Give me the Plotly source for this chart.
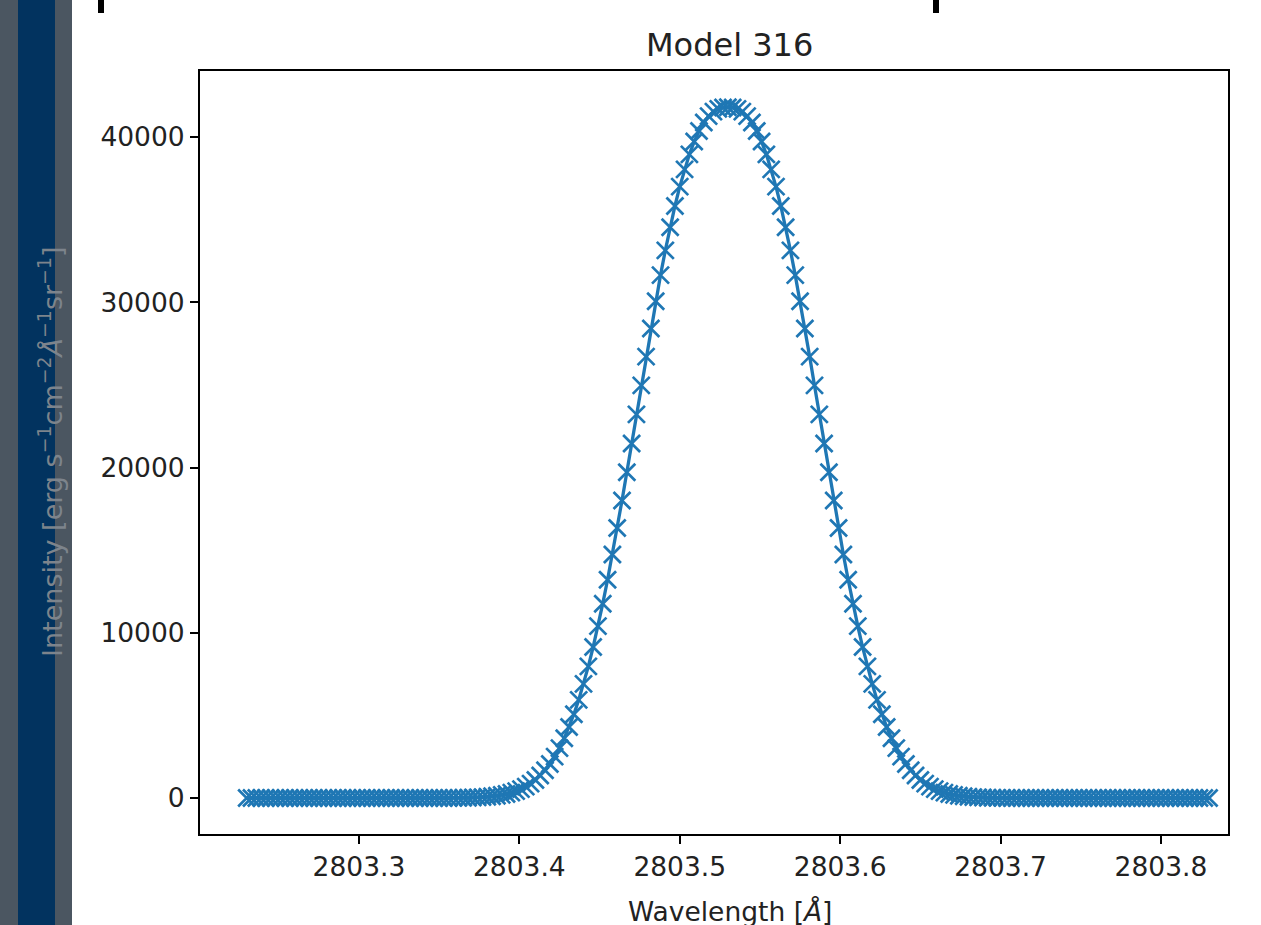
import plotly.graph_objects as go

# ---------------- data ----------------
wavelength = [
    2803.230, 2803.233, 2803.236, 2803.239, 2803.242, 2803.245, 2803.248, 2803.251, 2803.254, 2803.257,
    2803.260, 2803.263, 2803.266, 2803.269, 2803.272, 2803.275, 2803.278, 2803.281, 2803.284, 2803.287,
    2803.290, 2803.293, 2803.296, 2803.299, 2803.302, 2803.305, 2803.308, 2803.311, 2803.314, 2803.317,
    2803.320, 2803.323, 2803.326, 2803.329, 2803.332, 2803.335, 2803.338, 2803.341, 2803.344, 2803.347,
    2803.350, 2803.353, 2803.356, 2803.359, 2803.362, 2803.365, 2803.368, 2803.371, 2803.374, 2803.377,
    2803.380, 2803.383, 2803.386, 2803.389, 2803.392, 2803.395, 2803.398, 2803.401, 2803.404, 2803.407,
    2803.410, 2803.413, 2803.416, 2803.419, 2803.422, 2803.425, 2803.428, 2803.431, 2803.434, 2803.437,
    2803.440, 2803.443, 2803.446, 2803.449, 2803.452, 2803.455, 2803.458, 2803.461, 2803.464, 2803.467,
    2803.470, 2803.473, 2803.476, 2803.479, 2803.482, 2803.485, 2803.488, 2803.491, 2803.494, 2803.497,
    2803.500, 2803.503, 2803.506, 2803.509, 2803.512, 2803.515, 2803.518, 2803.521, 2803.524, 2803.527,
    2803.530, 2803.533, 2803.536, 2803.539, 2803.542, 2803.545, 2803.548, 2803.551, 2803.554, 2803.557,
    2803.560, 2803.563, 2803.566, 2803.569, 2803.572, 2803.575, 2803.578, 2803.581, 2803.584, 2803.587,
    2803.590, 2803.593, 2803.596, 2803.599, 2803.602, 2803.605, 2803.608, 2803.611, 2803.614, 2803.617,
    2803.620, 2803.623, 2803.626, 2803.629, 2803.632, 2803.635, 2803.638, 2803.641, 2803.644, 2803.647,
    2803.650, 2803.653, 2803.656, 2803.659, 2803.662, 2803.665, 2803.668, 2803.671, 2803.674, 2803.677,
    2803.680, 2803.683, 2803.686, 2803.689, 2803.692, 2803.695, 2803.698, 2803.701, 2803.704, 2803.707,
    2803.710, 2803.713, 2803.716, 2803.719, 2803.722, 2803.725, 2803.728, 2803.731, 2803.734, 2803.737,
    2803.740, 2803.743, 2803.746, 2803.749, 2803.752, 2803.755, 2803.758, 2803.761, 2803.764, 2803.767,
    2803.770, 2803.773, 2803.776, 2803.779, 2803.782, 2803.785, 2803.788, 2803.791, 2803.794, 2803.797,
    2803.800, 2803.803, 2803.806, 2803.809, 2803.812, 2803.815, 2803.818, 2803.821, 2803.824, 2803.827,
    2803.830,
]

intensity = [
    0, 0, 0, 0, 0, 0, 0, 0, 0, 0,
    0, 0, 0, 0, 0, 0, 0, 0, 0, 0,
    0, 0, 0, 0, 0, 0, 0, 0, 0, 0,
    0, 0, 0, 0, 0, 0, 0, 0, 1, 1,
    2, 3, 5, 7, 10, 14, 20, 29, 41, 56,
    77, 105, 141, 188, 247, 324, 419, 539, 688, 870,
    1093, 1360, 1680, 2059, 2504, 3021, 3616, 4299, 5071, 5937,
    6904, 7966, 9134, 10399, 11758, 13205, 14736, 16339, 18003, 19713,
    21455, 23213, 24967, 26709, 28411, 30059, 31639, 33138, 34537, 35826,
    36996, 38038, 38947, 39724, 40365, 40876, 41263, 41534, 41701, 41782,
    41800, 41782, 41701, 41534, 41263, 40876, 40365, 39724, 38947, 38038,
    36996, 35826, 34537, 33138, 31639, 30059, 28411, 26709, 24967, 23213,
    21455, 19713, 18003, 16339, 14736, 13205, 11758, 10399, 9134, 7966,
    6904, 5937, 5071, 4299, 3616, 3021, 2504, 2059, 1680, 1360,
    1093, 870, 688, 539, 419, 324, 247, 188, 141, 105,
    77, 56, 41, 29, 20, 14, 10, 7, 5, 3,
    2, 1, 1, 0, 0, 0, 0, 0, 0, 0,
    0, 0, 0, 0, 0, 0, 0, 0, 0, 0,
    0, 0, 0, 0, 0, 0, 0, 0, 0, 0,
    0, 0, 0, 0, 0, 0, 0, 0, 0, 0,
    0,
]

x_ticks = [2803.3, 2803.4, 2803.5, 2803.6, 2803.7, 2803.8]
x_tick_labels = ["2803.3", "2803.4", "2803.5", "2803.6", "2803.7", "2803.8"]
y_ticks = [0, 10000, 20000, 30000, 40000]
y_tick_labels = ["0", "10000", "20000", "30000", "40000"]

title_text = "Model 316"
x_label = "Wavelength [<i>Å</i>]"
y_label = "Intensity [erg s<sup>−1</sup>cm<sup>−2</sup><i>Å</i><sup>−1</sup>sr<sup>−1</sup>]"

# ---------------- layout geometry (pixels) ----------------
W, H = 1261, 925
L, R, T, B = 200, 1228, 71, 834   # plot-area box in pixels


def px(xp):
    return (xp - L) / (R - L)


def py(yp):
    return (B - yp) / (B - T)


FONT = "DejaVu Sans"
BLUE = "#1f77b4"
TXT = "#1a1a1a"

fig = go.Figure()
fig.add_trace(go.Scatter(
    x=wavelength, y=intensity, mode="lines+markers",
    line=dict(color=BLUE, width=3.3),
    marker=dict(symbol="x-thin", size=17, color=BLUE,
                line=dict(color=BLUE, width=2.7)),
    showlegend=False, hoverinfo="skip",
))

axis_common = dict(
    showline=True, mirror=True, linecolor="black", linewidth=2,
    ticks="outside", ticklen=8, tickwidth=2, tickcolor="black",
    showgrid=False, zeroline=False,
    tickfont=dict(family=FONT, size=26.5, color="#222222"),
)

fig.update_xaxes(range=[2803.2009, 2803.8418], tickmode="array",
                 tickvals=x_ticks, ticktext=x_tick_labels, **axis_common)
fig.update_yaxes(range=[-2178, 43994], tickmode="array",
                 tickvals=y_ticks, ticktext=y_tick_labels, **axis_common)

shapes = [
    dict(type="rect", xref="paper", yref="paper", x0=px(0), x1=px(18),
         y0=py(H), y1=py(0), fillcolor="#4b5661", line=dict(width=0), layer="below"),
    dict(type="rect", xref="paper", yref="paper", x0=px(18), x1=px(55),
         y0=py(H), y1=py(0), fillcolor="#02335f", line=dict(width=0), layer="below"),
    dict(type="rect", xref="paper", yref="paper", x0=px(55), x1=px(72),
         y0=py(H), y1=py(0), fillcolor="#4b5661", line=dict(width=0), layer="below"),
    # small black marks at the top edge
    dict(type="rect", xref="paper", yref="paper", x0=px(98), x1=px(104),
         y0=py(13), y1=py(0), fillcolor="black", line=dict(width=0)),
    dict(type="rect", xref="paper", yref="paper", x0=px(933), x1=px(939),
         y0=py(13), y1=py(0), fillcolor="black", line=dict(width=0)),
]

annotations = [
    dict(text=title_text, xref="paper", yref="paper", x=px(729), y=py(45),
         xanchor="center", yanchor="middle", showarrow=False,
         font=dict(family=FONT, size=32, color="#222222")),
    dict(text=x_label, xref="paper", yref="paper", x=px(730), y=py(911),
         xanchor="center", yanchor="middle", showarrow=False,
         font=dict(family=FONT, size=26.5, color="#222222")),
    dict(text=y_label, xref="paper", yref="paper", x=px(50), y=py(452),
         xanchor="center", yanchor="middle", showarrow=False, textangle=-90,
         font=dict(family=FONT, size=27, color="#7d848c")),
]

fig.update_layout(
    width=W, height=H,
    margin=dict(l=L, r=W - R, t=T, b=H - B, pad=0),
    paper_bgcolor="white", plot_bgcolor="white",
    shapes=shapes, annotations=annotations,
    font=dict(family=FONT, color=TXT),
)

fig.write_html("out.html", config={"displayModeBar": False},
               post_script="document.body.style.margin='0px';document.body.style.overflow='hidden';")
